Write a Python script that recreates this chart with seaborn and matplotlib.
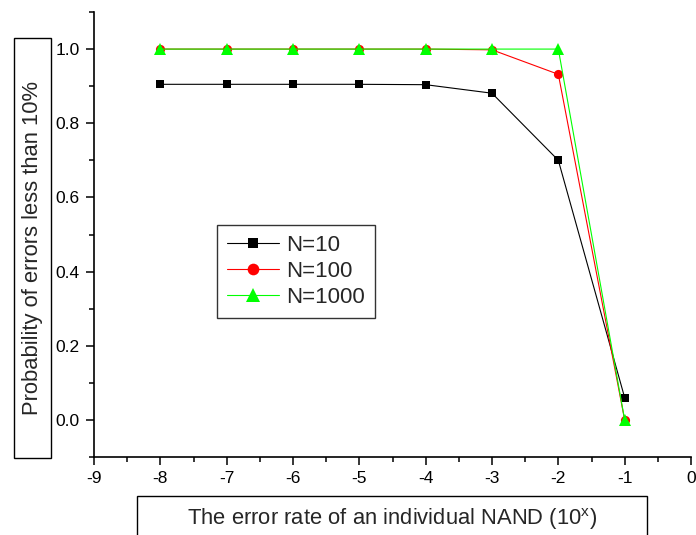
import numpy as np
import pandas as pd
import matplotlib
matplotlib.use("Agg")
import matplotlib.pyplot as plt
from matplotlib.patches import Rectangle
from matplotlib.ticker import MultipleLocator
import seaborn as sns

# Exponent of the per-gate error rate (10^x)
error_exponent = [-8, -7, -6, -5, -4, -3, -2, -1]

# Probability that the output error stays below 10%
prob_n10 = [0.905, 0.905, 0.905, 0.905, 0.904, 0.881, 0.700, 0.060]
prob_n100 = [1.0, 1.0, 1.0, 1.0, 1.0, 0.998, 0.932, 0.0]
prob_n1000 = [1.0, 1.0, 1.0, 1.0, 1.0, 1.0, 1.0, 0.0]

series_names = ["N=10", "N=100", "N=1000"]

df = pd.DataFrame({
    "x": error_exponent * 3,
    "p": prob_n10 + prob_n100 + prob_n1000,
    "N": [s for s in series_names for _ in error_exponent],
})

sns.set_theme(style="ticks")
plt.rcParams["font.family"] = ["Liberation Sans", "DejaVu Sans"]
plt.rcParams["mathtext.default"] = "regular"

fig = plt.figure(figsize=(6.96, 5.35), dpi=100)
ax = fig.add_axes([94 / 696, 1 - 457 / 535, (691 - 94) / 696, (457 - 12) / 535])

palette = {"N=10": "#000000", "N=100": "#ff0000", "N=1000": "#00ff00"}
markers = {"N=10": "s", "N=100": "o", "N=1000": "^"}
sizes = {"N=10": 6.3, "N=100": 6.6, "N=1000": 8.5}
legend_sizes = {"N=10": 7.8, "N=100": 8.4, "N=1000": 10}

for name in series_names:
    sub = df[df["N"] == name]
    sns.lineplot(data=sub, x="x", y="p", ax=ax, color=palette[name],
                 marker=markers[name], markersize=sizes[name],
                 markeredgewidth=0, linewidth=0.8, label=name,
                 estimator=None, sort=False)

ax.set_xlim(-9, 0)
ax.set_ylim(-0.1, 1.1)
ax.xaxis.set_major_locator(MultipleLocator(1))
ax.xaxis.set_minor_locator(MultipleLocator(0.5))
ax.yaxis.set_major_locator(MultipleLocator(0.2))
ax.yaxis.set_minor_locator(MultipleLocator(0.1))
ax.set_yticks(np.arange(0, 1.01, 0.2))
ax.set_yticklabels([f"{v:.1f}" for v in np.arange(0, 1.01, 0.2)])
ax.set_xticklabels([str(int(v)) for v in ax.get_xticks()])

for side in ("top", "right"):
    ax.spines[side].set_visible(False)
for side in ("left", "bottom"):
    ax.spines[side].set_linewidth(1.2)
    ax.spines[side].set_color("black")

ax.tick_params(which="major", direction="out", length=6, width=1.1,
               labelsize=12.5, pad=4.3, colors="black")
ax.tick_params(which="minor", direction="out", length=3.6, width=1.1,
               colors="black")
ax.set_xlabel("")
ax.set_ylabel("")

leg = ax.legend(loc="upper left", bbox_to_anchor=(123 / 597, 1 - 213 / 445),
                fontsize=16, frameon=True, fancybox=False, handlelength=2.35,
                handletextpad=0.3, borderpad=0.45, labelspacing=0.22,
                borderaxespad=0)
leg.get_frame().set_edgecolor("black")
leg.get_frame().set_linewidth(1.0)
for handle, text in zip(leg.legend_handles, leg.get_texts()):
    handle.set_markersize(legend_sizes[text.get_text()])

# Boxed axis titles
fig.patches.append(Rectangle((14 / 696, 1 - 458 / 535), 37 / 696, 420 / 535,
                             transform=fig.transFigure, facecolor="white",
                             edgecolor="black", linewidth=1.0))
fig.text(32.5 / 696, 1 - 248 / 535, "Probability of errors less than 10%",
         rotation=90, ha="center", va="center", fontsize=15.8)

fig.patches.append(Rectangle((137 / 696, -0.05), 510 / 696, 0.05 + 39 / 535,
                             transform=fig.transFigure, facecolor="white",
                             edgecolor="black", linewidth=1.0))
fig.text(392 / 696, 1 - 519 / 535,
         "The error rate of an individual NAND (10$^{x}$)",
         ha="center", va="center", fontsize=15.8)

fig.savefig("out.png", dpi=100)
